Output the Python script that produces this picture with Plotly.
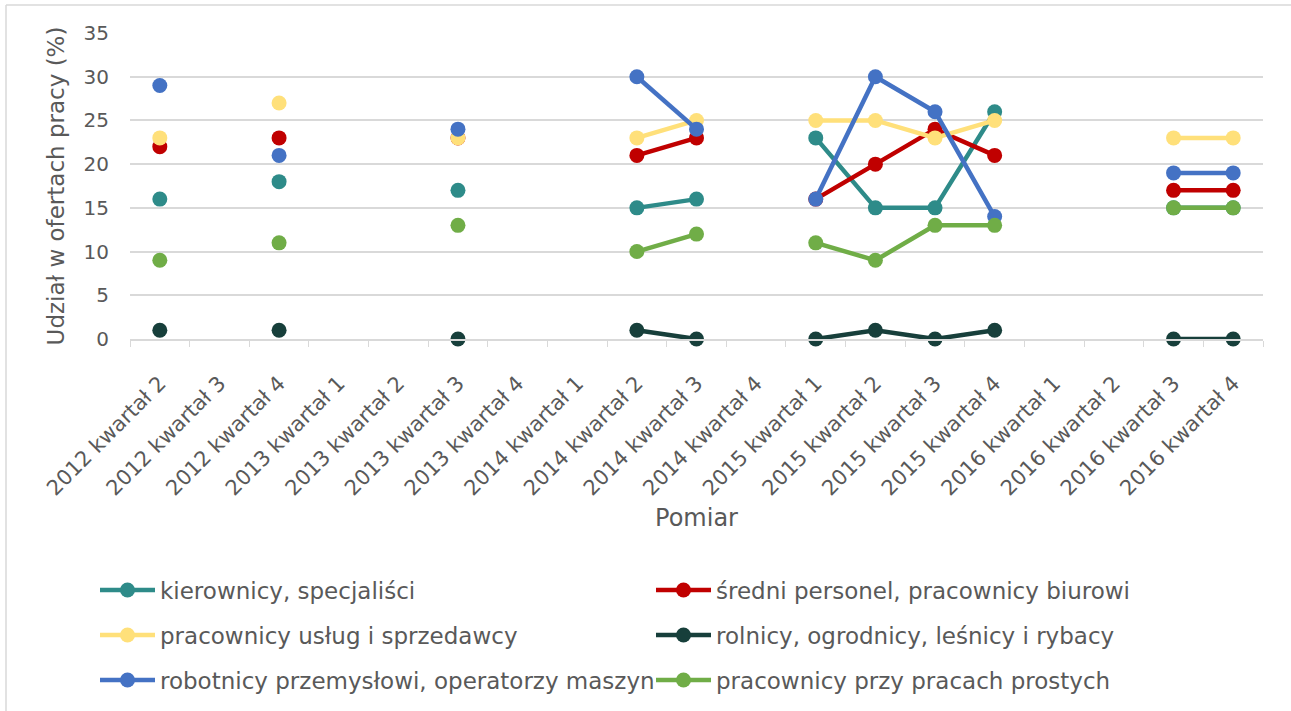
import plotly.graph_objects as go

# Quarters on the category axis
quarters = [
    "2012 kwartał 2", "2012 kwartał 3", "2012 kwartał 4",
    "2013 kwartał 1", "2013 kwartał 2", "2013 kwartał 3", "2013 kwartał 4",
    "2014 kwartał 1", "2014 kwartał 2", "2014 kwartał 3", "2014 kwartał 4",
    "2015 kwartał 1", "2015 kwartał 2", "2015 kwartał 3", "2015 kwartał 4",
    "2016 kwartał 1", "2016 kwartał 2", "2016 kwartał 3", "2016 kwartał 4",
]

# Share of job offers (%) per occupational group; None = no measurement
kierownicy = [16, None, 18, None, None, 17, None, None, 15, 16, None, 23, 15, 15, 26, None, None, 15, 15]
sredni = [22, None, 23, None, None, 23, None, None, 21, 23, None, 16, 20, 24, 21, None, None, 17, 17]
uslugi = [23, None, 27, None, None, 23, None, None, 23, 25, None, 25, 25, 23, 25, None, None, 23, 23]
rolnicy = [1, None, 1, None, None, 0, None, None, 1, 0, None, 0, 1, 0, 1, None, None, 0, 0]
robotnicy = [29, None, 21, None, None, 24, None, None, 30, 24, None, 16, 30, 26, 14, None, None, 19, 19]
proste = [9, None, 11, None, None, 13, None, None, 10, 12, None, 11, 9, 13, 13, None, None, 15, 15]

series = [
    ("kierownicy, specjaliści", kierownicy, "#2E8B89"),
    ("średni personel, pracownicy biurowi", sredni, "#C00000"),
    ("pracownicy usług i sprzedawcy", uslugi, "#FFE07A"),
    ("rolnicy, ogrodnicy, leśnicy i rybacy", rolnicy, "#173F3B"),
    ("robotnicy przemysłowi, operatorzy maszyn", robotnicy, "#4472C4"),
    ("pracownicy przy pracach prostych", proste, "#70AD47"),
]

FONT = "DejaVu Sans"
TXT = "#595959"
GRID = "#D9D9D9"

W, H = 1291, 711
L, R, T, B = 130, 28, 33, 372
pw, ph = W - L - R, H - T - B


def px_x(p):
    return (p - L) / pw


def px_y(p):
    return (H - B - p) / ph


# legend grid: two columns, three rows (one legend box per entry)
leg_cols = [95, 651]
leg_rows = [590, 635, 680]
legend_layouts = {}

fig = go.Figure()
for i, (name, vals, color) in enumerate(series):
    key = "legend" if i == 0 else f"legend{i + 1}"
    fig.add_trace(go.Scatter(
        x=quarters, y=vals, name=name, mode="lines+markers",
        line=dict(color=color, width=4.5),
        marker=dict(color=color, size=15),
        connectgaps=False, cliponaxis=False, legend=key, showlegend=True,
    ))
    legend_layouts[key] = dict(
        x=px_x(leg_cols[i % 2]), y=px_y(leg_rows[i // 2]),
        xanchor="left", yanchor="middle", orientation="h",
        font=dict(family=FONT, size=23, color=TXT),
        itemwidth=55, bgcolor="rgba(0,0,0,0)", visible=True,
    )

fig.update_layout(
    width=W, height=H,
    showlegend=True,
    margin=dict(l=L, r=R, t=T, b=B, autoexpand=False),
    paper_bgcolor="white", plot_bgcolor="white",
    font=dict(family=FONT, color=TXT),
    xaxis=dict(
        type="category", categoryorder="array", categoryarray=quarters,
        range=[-0.5, len(quarters) - 0.5], automargin=False,
        tickangle=-45, tickfont=dict(family=FONT, size=21, color=TXT),
        ticklabelstandoff=22,
        showgrid=False, showline=True, linecolor=GRID, linewidth=1.5,
        ticks="outside", tickson="boundaries", ticklen=6, tickcolor=GRID,
        title=dict(text="Pomiar", font=dict(family=FONT, size=24, color=TXT), standoff=10),
    ),
    yaxis=dict(
        range=[0, 35], dtick=5, tick0=0, automargin=False,
        tickfont=dict(family=FONT, size=20, color=TXT),
        ticklabelstandoff=20,
        showgrid=True, gridcolor=GRID, gridwidth=1.5,
        zeroline=False, showline=False, ticks="",
        title=dict(text="Udział w ofertach pracy (%)",
                   font=dict(family=FONT, size=23, color=TXT), standoff=12),
    ),
    **legend_layouts,
)

# Chart frame (top and left edges)
fig.add_shape(type="line", xref="paper", yref="paper",
              x0=px_x(6), x1=px_x(W + 10), y0=px_y(5), y1=px_y(5),
              line=dict(color=GRID, width=1.5), layer="below")
fig.add_shape(type="line", xref="paper", yref="paper",
              x0=px_x(6), x1=px_x(6), y0=px_y(5), y1=px_y(H + 10),
              line=dict(color=GRID, width=1.5), layer="below")

fig.write_html("out.html")
